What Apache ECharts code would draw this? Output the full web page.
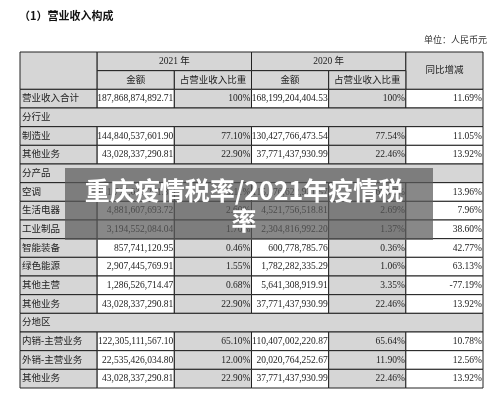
<!DOCTYPE html>
<html><head><meta charset="utf-8">
<script src="https://cdn.jsdelivr.net/npm/echarts@6/dist/echarts.min.js"></script>
<style>html,body{margin:0;background:#fff}#c{width:500px;height:408px}</style>
</head><body><div id="c"></div>
<script>
const rowLabels = ['营业收入合计','分行业','制造业','其他业务','分产品','空调','生活电器','工业制品','智能装备','绿色能源','其他主营','其他业务','分地区','内销-主营业务','外销-主营业务','其他业务'];
const amount2021 = ['187,868,874,892.71',null,'144,840,537,601.90','43,028,337,290.81',null,'131,712,636,251.81','4,881,607,693.72','3,194,552,084.04','857,741,120.95','2,907,445,769.91','1,286,526,714.47','43,028,337,290.81',null,'122,305,111,567.10','22,535,426,034.80','43,028,337,290.81'];
const share2021 = ['100%',null,'77.10%','22.90%',null,'70.11%','2.60%','1.70%','0.46%','1.55%','0.68%','22.90%',null,'65.10%','12.00%','22.90%'];
const amount2020 = ['168,199,204,404.53',null,'130,427,766,473.54','37,771,437,930.99',null,'115,576,622,921.57','4,521,756,518.81','2,304,816,992.20','600,778,785.76','1,782,282,335.29','5,641,308,919.91','37,771,437,930.99',null,'110,407,002,220.87','20,020,764,252.67','37,771,437,930.99'];
const share2020 = ['100%',null,'77.54%','22.46%',null,'68.72%','2.69%','1.37%','0.36%','1.06%','3.35%','22.46%',null,'65.64%','11.90%','22.46%'];
const yoyChange = ['11.69%',null,'11.05%','13.92%',null,'13.96%','7.96%','38.60%','42.77%','63.13%','-77.19%','13.92%',null,'10.78%','12.56%','13.92%'];
const headerYears = ['2021 年','2020 年'];
const headerSub = ['金额','占营业收入比重'];

const GRAY='#d6d6d6', WHITE='#ffffff';
const cells=[];
cells.push([0,1,0,2,'','center',GRAY]);
cells.push([1,3,0,1,headerYears[0],'center',GRAY]);
cells.push([3,5,0,1,headerYears[1],'center',GRAY]);
cells.push([5,6,0,2,'同比增减','center',GRAY]);
for(let k=0;k<4;k++) cells.push([1+k,2+k,1,2,headerSub[k%2],'center',GRAY]);
rowLabels.forEach((lab,i)=>{
  const y=2+i;
  if(amount2021[i]===null){ cells.push([0,6,y,y+1,lab,'left',GRAY]); return; }
  cells.push([0,1,y,y+1,lab,'left',GRAY]);
  cells.push([1,2,y,y+1,amount2021[i],'right',WHITE]);
  cells.push([2,3,y,y+1,share2021[i],'right',GRAY]);
  cells.push([3,4,y,y+1,amount2020[i],'right',WHITE]);
  cells.push([4,5,y,y+1,share2020[i],'right',GRAY]);
  cells.push([5,6,y,y+1,yoyChange[i],'right',WHITE]);
});

const chart=echarts.init(document.getElementById('c'));
const FONT='"Liberation Serif","Noto Sans CJK SC",serif';
chart.setOption({
  animation:false,
  title:{text:'（1）营业收入构成',left:14,top:5,textStyle:{fontSize:11,fontWeight:'bold',color:'#111',fontFamily:'"Noto Sans CJK SC"'}},
  grid:{left:20,right:17,top:52,bottom:20},
  xAxis:{type:'value',min:0,max:6,show:false},
  yAxis:{type:'value',min:0,max:18,inverse:true,show:false},
  graphic:[
    {type:'text',right:13,top:36,style:{text:'单位：人民币元',fontSize:9,fill:'#333',fontFamily:FONT}},
    {type:'rect',shape:{x:65,y:168,width:368,height:72},style:{fill:'rgba(90,90,90,0.72)'},z:100},
    {type:'text',x:244,y:175,z:101,style:{text:'重庆疫情税率/2021年疫情税\n率',textAlign:'center',fontSize:25,fontWeight:'bold',fill:'#fff',lineHeight:30,fontFamily:'"Noto Sans CJK SC"'}}
  ],
  series:[{
    type:'custom',
    data:cells,
    encode:{x:[0,1],y:[2,3]},
    renderItem:(p,api)=>{
      const c=cells[p.dataIndex];
      const a=api.coord([c[0],c[2]]), b=api.coord([c[1],c[3]]);
      const w=b[0]-a[0], h=b[1]-a[1];
      const tx=c[5]==='left'?a[0]+2:c[5]==='right'?b[0]-1:a[0]+w/2;
      return {type:'group',children:[
        {type:'rect',shape:{x:a[0],y:a[1],width:w,height:h},style:{fill:c[6],stroke:'#222',lineWidth:1}},
        {type:'text',style:{x:tx,y:a[1]+h/2,text:c[4],textAlign:c[5],textVerticalAlign:'middle',fontSize:9.5,fill:'#222',fontFamily:FONT}}
      ]};
    }
  }]
});
</script></body></html>
